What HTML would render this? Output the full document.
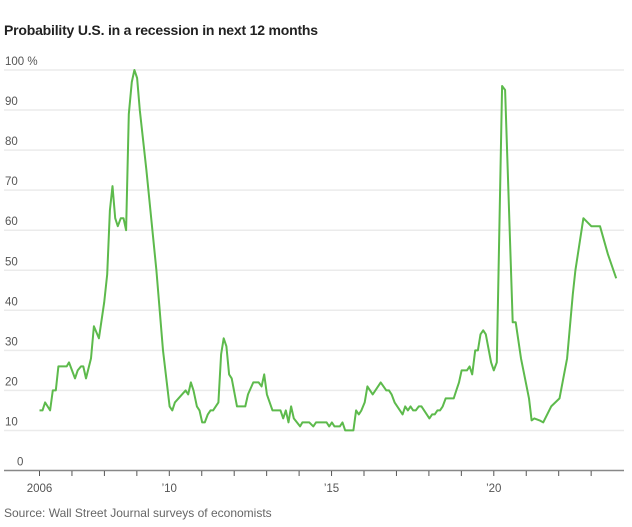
<!DOCTYPE html>
<html><head><meta charset="utf-8"><style>
body{margin:0;background:#fff;width:632px;height:527px;overflow:hidden;font-family:"Liberation Sans",sans-serif}
#title{position:absolute;left:4px;top:22px;font-size:14px;font-weight:bold;color:#222;letter-spacing:-0.2px}
#source{position:absolute;left:4px;top:506px;font-size:12px;color:#666}
svg{position:absolute;left:0;top:0}
</style></head><body>
<div id="title">Probability U.S. in a recession in next 12 months</div>
<svg id="chart" width="632" height="527"></svg>
<div id="source">Source: Wall Street Journal surveys of economists</div>
<script>
const yTicks=[0,10,20,30,40,50,60,70,80,90,100];
const xTickYears=[2006,2007,2008,2009,2010,2011,2012,2013,2014,2015,2016,2017,2018,2019,2020,2021,2022,2023];
const xLabelYears=[2006,2010,2015,2020];
const xLabels=["2006","’10","’15","’20"];
// zoomed-sample x positions converted into years below; values in percent
const seg1X=[118,127,135,150,158,167,175,200,207,225,233,243,250,258,273,282,297,313,322,330,338,346,354,363,371,379,387,396,404,412,420,440,470,490,510,518,526,558,566,574,582,592,600,608,616,625,633,641,657,665,673,681,689,697,713,738,746,762,778,787,795,803,820,844,852,860,868,876,884,903,910,930];
const seg1V=[15,15,17,15,20,20,26,26,27,23,25,26,26,23,28,36,33,42,49,65,71,63,61,63,63,60,89,97,100,98,90,75,50,30,16,15,17,20,19,22,20,16,15,12,12,14,15,15,17,29,33,31,24,23,16,16,19,22,22,21,24,19,15,15,13,15,12,16,13,11,12,12];
const seg2X=[0,12,20,52,60,68,76,92,100,108,133,141,149,157,167,175,191,215,232,240,248,257,281,289,297,305,313,321,330,338,362,370,378,386,394,402,411,435,443,451,459,475,483,491,500,508,516,524,532,548,556,565,581,590,613,622,638,662,670,678,694,705,729,754,777,794,802,826,850,876,900,925];
const seg2V=[12,11,12,12,11,12,11,11,12,10,10,15,14,15,17,21,19,22,20,20,19,17,14,16,15,16,15,15,16,16,13,14,14,15,15,16,18,18,20,22,25,25,26,24,30,30,34,35,34,27,25,27,96,95,37,37,28,18,12.5,13,12.5,12,16,18,28,44,50,63,61,61,54,48];
const years=seg1X.map(z=>2006+(z-118)/97.75).concat(seg2X.map(z=>2015+(z-67)/97.8));
const values=seg1V.concat(seg2V);

const svg=document.getElementById('chart');
const NS='http://www.w3.org/2000/svg';
const x=yr=>39.5+(yr-2006)*32.45;
const y=v=>470.5-v*4.005;
function mk(t,a){const e=document.createElementNS(NS,t);for(const k in a)e.setAttribute(k,a[k]);svg.appendChild(e);return e;}
yTicks.forEach(v=>{
  if(v>0){const g=mk('line',{x1:4,x2:624,y1:y(v),y2:y(v),stroke:'#ebebeb','stroke-width':1.5});
  
  }
  const t=mk('text',{x:v===0?17:5,y:y(v)-5,'font-size':11.5,fill:'#555','font-family':'Liberation Sans, sans-serif'});
  t.textContent=v===100?'100 %':String(v);
  
  
});
const ax=mk('line',{x1:4,x2:624,y1:470.5,y2:470.5,stroke:'#888','stroke-width':1.5});


xTickYears.forEach(yr=>{
  const tk=mk('line',{x1:x(yr),x2:x(yr),y1:471,y2:476,stroke:'#555','stroke-width':1});
  
  
});
xLabelYears.forEach((yr,i)=>{
  const t=mk('text',{x:x(yr),y:492,'font-size':11.5,fill:'#555','text-anchor':'middle','font-family':'Liberation Sans, sans-serif'});
  t.textContent=xLabels[i];
  
  
});
const d=years.map((yr,i)=>(i?'L':'M')+x(yr).toFixed(1)+' '+y(values[i]).toFixed(1)).join(' ');
const p=mk('path',{d:d,fill:'none',stroke:'#5dba4c','stroke-width':2,'stroke-linejoin':'round'});


</script>
</body></html>
